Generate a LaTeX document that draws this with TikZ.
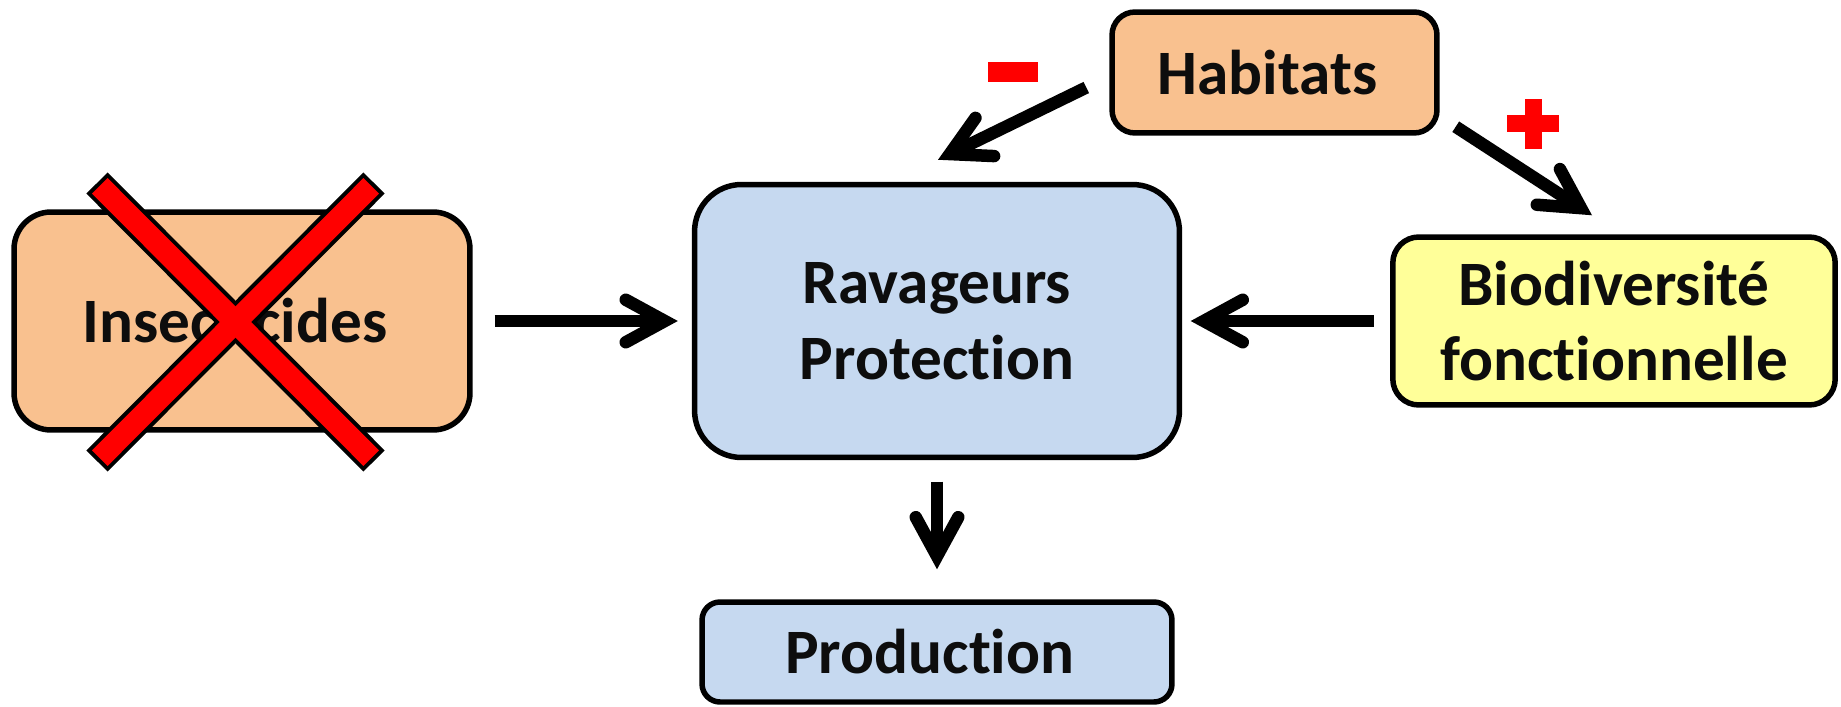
\documentclass[tikz,border=0pt]{standalone}
\usepackage{fontspec}
\setmainfont{Carlito}[Ligatures=NoCommon]
\usetikzlibrary{arrows.meta,positioning}
\definecolor{orangeclair}{HTML}{F9C18F}
\definecolor{bleuclair}{HTML}{C6D9F0}
\definecolor{jauneclair}{HTML}{FFFF99}
\definecolor{rouge}{HTML}{FF0000}
\tikzset{
  every node/.style={
    font=\fontsize{36}{43}\selectfont\bfseries
  },
  cadre/.style={
    shape=rectangle,
    draw=black,
    line width=0.11cm,
    text=black!95,
    align=center,
    inner sep=0pt
  },
  fleche/.style={
    line width=0.25cm,
    -{Straight Barb[length=0.78cm,width=0.85cm,line cap=round,line join=miter]}
  },
  barre contour/.style={
    line width=0.6cm,
    draw=black
  },
  barre rouge/.style={
    line width=0.44cm,
    draw=rouge,
    shorten <=0.08cm,
    shorten >=0.08cm
  }
}

\begin{document}
\begin{tikzpicture}[x=0.02cm,y=-0.02cm]
  \useasboundingbox (0,0) rectangle (1841,706);

  \node [cadre, fill=orangeclair, minimum width=9.12cm, minimum height=4.36cm, rounded corners=0.74cm] (ins) at (242,321) { Insecticides };
  \node [cadre, fill=bleuclair, minimum width=9.7cm, minimum height=5.46cm, rounded corners=0.94cm] (rav) at (937,321) { Ravageurs\\Protection };
  \node [cadre, fill=bleuclair, minimum width=9.4cm, minimum height=2.0cm, rounded corners=0.36cm] (prod) at (937,652) { Production };
  \node [cadre, fill=orangeclair, minimum width=6.5cm, minimum height=2.42cm, rounded corners=0.46cm] (hab) at (1274.5,72.5) { Habitats };
  \node [cadre, fill=jauneclair, minimum width=8.85cm, minimum height=3.36cm, rounded corners=0.52cm] (bio) at (1614,321) { Biodiversité\\fonctionnelle };

  % croix sur les insecticides
  \draw [barre contour] (97,183) -- (374,461);
  \draw [barre contour] (374,183) -- (97,461);
  \draw [barre rouge] (97,183) -- (374,461);
  \draw [barre rouge] (374,183) -- (97,461);

  \draw [fleche, shorten <=0.44cm, shorten >=0.28cm] (ins) -- (rav);
  \draw [fleche, shorten <=0.33cm, shorten >=0.17cm] (bio) -- (rav);
  \draw [fleche, shorten <=0.43cm, shorten >=0.6cm] (rav) -- (prod);
  \draw [fleche] ([xshift=-0.46cm,yshift=-0.3cm]hab.west) -- ([xshift=0.02cm,yshift=0.44cm]rav.north);
  \draw [fleche] ([xshift=0.32cm,yshift=0.18cm]hab.south east) -- ([xshift=-0.44cm,yshift=0.38cm]bio.north);

  % signes
  \fill [rouge] (988,62) rectangle (1038,82);
  \fill [rouge] (1507,115) rectangle (1559,132);
  \fill [rouge] (1525,99) rectangle (1542,149);
\end{tikzpicture}
\end{document}
